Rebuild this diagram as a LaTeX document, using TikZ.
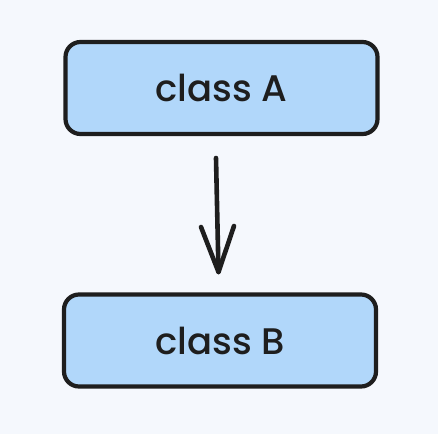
\documentclass[tikz,border=0pt]{standalone}
\usepackage{fontspec}
\setmainfont{Poppins}[UprightFont=* Medium]
\definecolor{bgc}{HTML}{F5F8FD}
\definecolor{boxfill}{HTML}{B1D7FA}
\definecolor{ink}{HTML}{1E1E1E}
\tikzset{
  classbox/.style={draw=ink, fill=boxfill, line width=4.2pt, rounded corners=15pt, minimum width=312pt, minimum height=92pt, inner sep=0pt, font=\fontsize{37}{40}\selectfont, text=ink},
  arrowline/.style={draw=ink, line width=4.6pt, line cap=round, line join=round}
}
\begin{document}
\begin{tikzpicture}[x=1pt,y=-1pt]
\fill[bgc] (0,0) rectangle (438,434);
\useasboundingbox (0,0) rectangle (438,434);
\node[classbox] (A) at (221.5,88) {class A};
\node[classbox] (B) at (220,340.5) {class B};
\coordinate (s) at (216,158);
\coordinate (t) at (218.5,272);
\draw[arrowline] (s) -- (t);
\draw[arrowline] (201,227) -- (t) -- (234,226);
\end{tikzpicture}
\end{document}
